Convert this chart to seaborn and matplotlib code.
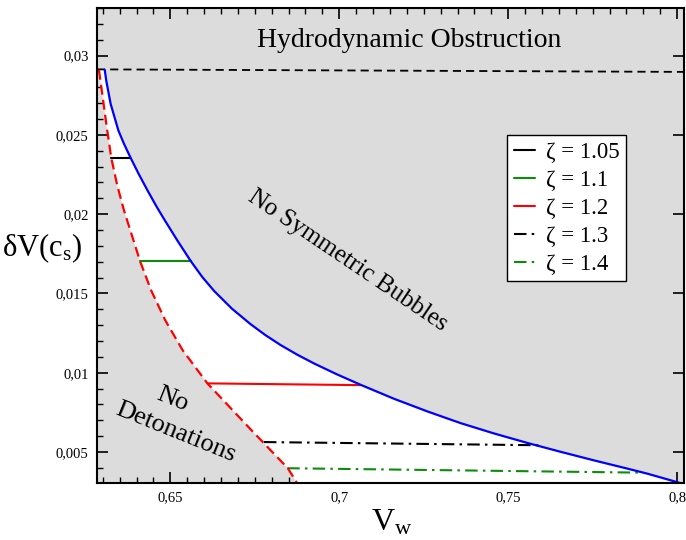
import numpy as np
import seaborn as sns
import matplotlib
matplotlib.use("Agg")
import matplotlib.pyplot as plt
from matplotlib.lines import Line2D
from matplotlib.ticker import MultipleLocator

# curves
blue_x = [0.63059, 0.63103, 0.63233, 0.63462, 0.63628, 0.63823, 0.64060, 0.64324, 0.64600, 0.64837,
          0.65205, 0.65602, 0.65948, 0.66295, 0.66823, 0.67371, 0.67816, 0.68269, 0.68764, 0.69259,
          0.69920, 0.70632, 0.71619, 0.72609, 0.73596, 0.74583, 0.75573, 0.76560, 0.77547, 0.78537,
          0.79130, 0.80116]
blue_y = [0.02910, 0.02843, 0.02696, 0.02528, 0.02444, 0.02356, 0.02255, 0.02150, 0.02045, 0.01961,
          0.01835, 0.01705, 0.01603, 0.01516, 0.01404, 0.01307, 0.01237, 0.01174, 0.01113, 0.01058,
          0.00991, 0.00924, 0.00836, 0.00756, 0.00682, 0.00617, 0.00557, 0.00501, 0.00447, 0.00395,
          0.00363, 0.00303]

red_x = [0.62887, 0.62985, 0.63118, 0.63251, 0.63429, 0.63628, 0.64102, 0.64431, 0.64849, 0.65365,
         0.66097, 0.67395, 0.67727, 0.68477, 0.68756]
red_y = [0.02910, 0.02759, 0.02549, 0.02356, 0.02181, 0.02024, 0.01705, 0.01520, 0.01331, 0.01142,
         0.00933, 0.00639, 0.00565, 0.00398, 0.00303]

top_x = [0.6283, 0.802]
top_y = [0.02913, 0.02897]

# zeta lines
z105_x = [0.6325, 0.6382]
z105_y = [0.02356, 0.02356]
z11_x = [0.6410, 0.6560]
z11_y = [0.01705, 0.01705]
z12_x = [0.6610, 0.7063]
z12_y = [0.00933, 0.00922]
z13_x = [0.6777, 0.7590]
z13_y = [0.00563, 0.00543]
z14_x = [0.6846, 0.7900]
z14_y = [0.00398, 0.00370]

legend_labels = ["ζ = 1.05", "ζ = 1.1", "ζ = 1.2", "ζ = 1.3", "ζ = 1.4"]

x_ticks = [0.65, 0.7, 0.75, 0.8]
x_tick_labels = ["0,65", "0,7", "0,75", "0,8"]
y_ticks = [0.005, 0.01, 0.015, 0.02, 0.025, 0.03]
y_tick_labels = ["0,005", "0,01", "0,015", "0,02", "0,025", "0,03"]

sns.set_style("ticks")
plt.rcParams['font.family'] = ['Liberation Serif', 'DejaVu Serif']
plt.rcParams['mathtext.fontset'] = 'custom'
plt.rcParams['mathtext.rm'] = 'Liberation Serif'
plt.rcParams['mathtext.it'] = 'Liberation Serif:italic'
plt.rcParams['text.color'] = 'black'
plt.rcParams['xtick.color'] = 'black'
plt.rcParams['ytick.color'] = 'black'

green = '#0b8c0b'
dashdot = (0, (6, 2.5, 1.2, 2.5))

fig = plt.figure(figsize=(6.86, 5.4), dpi=100)
ax = fig.add_axes([0.1414, 0.1056, 0.8556, 0.8796])
ax.set_facecolor('#dcdcdc')

# allowed region in white
ax.fill(np.r_[blue_x, red_x[::-1]], np.r_[blue_y, red_y[::-1]], color='white', lw=0, zorder=1)

sns.lineplot(x=top_x, y=top_y, sort=False, estimator=None, color='black', lw=1.3,
             linestyle=(0, (4.5, 2.8)), ax=ax, zorder=3)
sns.lineplot(x=blue_x, y=blue_y, sort=False, estimator=None, color='#0000ff', lw=1.6, ax=ax, zorder=4)
sns.lineplot(x=red_x, y=red_y, sort=False, estimator=None, color='#ff0000', lw=1.6,
             linestyle=(0, (4.5, 2.3)), ax=ax, zorder=4)

sns.lineplot(x=z105_x, y=z105_y, sort=False, estimator=None, color='black', lw=1.5, ax=ax, zorder=3)
sns.lineplot(x=z11_x, y=z11_y, sort=False, estimator=None, color=green, lw=1.5, ax=ax, zorder=3)
sns.lineplot(x=z12_x, y=z12_y, sort=False, estimator=None, color='#ff0000', lw=1.5, ax=ax, zorder=3)
sns.lineplot(x=z13_x, y=z13_y, sort=False, estimator=None, color='black', lw=1.5,
             linestyle=dashdot, ax=ax, zorder=3)
sns.lineplot(x=z14_x, y=z14_y, sort=False, estimator=None, color=green, lw=1.5,
             linestyle=dashdot, ax=ax, zorder=3)

ax.set_xlim(0.6283, 0.802)
ax.set_ylim(0.00305, 0.033)

ax.set_xticks(x_ticks)
ax.set_xticklabels(x_tick_labels)
ax.set_yticks(y_ticks)
ax.set_yticklabels(y_tick_labels)
ax.xaxis.set_minor_locator(MultipleLocator(0.005))
ax.yaxis.set_minor_locator(MultipleLocator(0.001))
ax.tick_params(which='both', direction='in', top=True, right=True, labelsize=10.5, pad=6)
ax.tick_params(which='major', length=8, width=1.2)
ax.tick_params(which='minor', length=4, width=1)
ax.tick_params(axis='y', which='minor', right=False)
for s in ax.spines.values():
    s.set_color('black')
    s.set_linewidth(1.5)
    s.set_zorder(6)

handles = [
    Line2D([], [], color='black', lw=1.5),
    Line2D([], [], color=green, lw=1.5),
    Line2D([], [], color='#ff0000', lw=1.5),
    Line2D([], [], color='black', lw=1.5, linestyle=dashdot),
    Line2D([], [], color=green, lw=1.5, linestyle=dashdot),
]
leg = ax.legend(handles, legend_labels, loc='upper left', bbox_to_anchor=(0.698, 0.7326),
                frameon=True, fancybox=False, edgecolor='black', framealpha=1,
                fontsize=16.5, handlelength=0.95, handletextpad=0.45, labelspacing=0.3,
                borderpad=0.3, borderaxespad=0)
leg.get_frame().set_linewidth(1.0)
leg.set_zorder(7)

ax.text(0.7206, 0.03094, "Hydrodynamic Obstruction", fontsize=20, ha='center', va='center', zorder=5)
ax.text(0.7025, 0.01709, "No Symmetric Bubbles", fontsize=18, rotation=-34,
        rotation_mode='anchor', ha='center', va='center', zorder=5)
ax.text(0.6506, 0.00834, "No", fontsize=19, rotation=-22,
        rotation_mode='anchor', ha='center', va='center', zorder=5)
ax.text(0.6515, 0.00626, "Detonations", fontsize=19, rotation=-22,
        rotation_mode='anchor', ha='center', va='center', zorder=5)

fig.text(0.0612, 0.5407, r"$\mathrm{\delta V(c_{s})}$", fontsize=22, ha='center', va='center')
fig.text(0.5714, 0.0315, r"$\mathrm{V_{w}}$", fontsize=23, ha='center', va='center')

fig.savefig("out.png", dpi=100)
